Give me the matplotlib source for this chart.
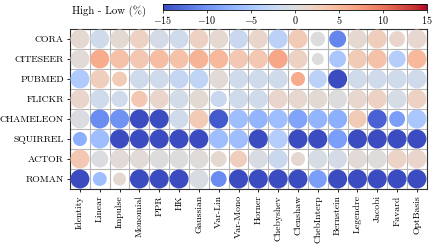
import numpy as np
import matplotlib
matplotlib.use("Agg")
import matplotlib.pyplot as plt
from matplotlib.colors import Normalize

plt.rcParams["font.family"] = ["cmr10", "DejaVu Serif"]
plt.rcParams["mathtext.fontset"] = "cm"
plt.rcParams["axes.formatter.use_mathtext"] = True
plt.rcParams["axes.unicode_minus"] = False

datasets = ["CORA", "CITESEER", "PUBMED", "FLICKR", "CHAMELEON", "SQUIRREL", "ACTOR", "ROMAN"]
filters = ["Identity", "Linear", "Impulse", "Monomial", "PPR", "HK", "Gaussian", "Var-Lin",
           "Var-Mono", "Horner", "Chebyshev", "Clenshaw", "ChebInterp", "Bernstein",
           "Legendre", "Jacobi", "Favard", "OptBasis"]

# High - Low (%) per dataset (rows) and filter (columns)
diff_cora = [1.0, -1.5, 0.8, 2.0, -1.0, -1.5, 2.0, 1.0, -2.0, 1.5, -3.5, 3.0, 0.0, -11.0, 1.0, 2.5, 1.5, 1.2]
diff_citeseer = [0.5, 6.0, 4.0, 3.5, 4.5, 4.0, 5.5, 5.0, 3.5, 3.5, 6.5, 2.0, 0.0, -5.0, 3.0, 4.0, -4.0, 5.0]
diff_pubmed = [-4.5, 2.5, 3.0, -1.5, -1.5, -2.5, -3.0, 0.5, -1.5, -1.5, -1.5, 6.0, -3.5, -15.0, -1.5, -1.5, -1.5, -1.5]
diff_flickr = [1.5, -1.5, -1.5, 3.5, 1.5, -1.2, 0.8, -2.0, -1.5, -1.5, 1.5, 1.2, 0.8, 0.0, 1.2, 2.0, -0.8, 2.0]
diff_chameleon = [-0.3, -10.5, -10.0, -15.0, -15.0, -1.5, 3.0, -14.0, -6.0, -7.0, -6.0, -8.5, -7.0, -7.5, 3.0, -13.5, -9.0, -5.0]
diff_squirrel = [-7.5, -6.0, -15.0, -15.0, -15.0, -15.0, -15.0, -6.0, -6.0, -15.0, -4.0, -15.0, -15.0, -9.0, -15.0, -15.0, -15.0, -15.0]
diff_actor = [3.5, -0.3, 0.5, 0.5, 0.0, 0.0, 0.3, 1.0, 2.5, -0.5, -2.0, 1.0, -0.8, -1.0, 0.5, 0.2, 1.8, 1.5]
diff_roman = [-15.0, -6.0, 1.0, -15.0, -15.0, -15.0, -0.5, -10.5, -15.0, -15.0, -15.0, -15.0, -9.0, -15.0, -15.0, -15.0, -15.0, -15.0]

# relative circle weight (1 = largest)
w_cora = [1, 1, 1, 1, 1, 1, 1, 1, 1, 1, 1, 1, 0.6, 0.8, 1, 1, 0.7, 1]
w_citeseer = [1, 1, 1, 1, 1, 1, 1, 1, 1, 1, 1, 1, 0.4, 0.8, 1, 1, 0.8, 1]
w_pubmed = [1, 1, 0.62, 1, 1, 1, 1, 1, 1, 1, 1, 0.55, 0.9, 1, 1, 1, 1, 1]
w_flickr = [1, 1, 0.75, 0.75, 1, 1, 1, 0.75, 1, 1, 1, 1, 1, 1, 1, 1, 1, 1]
w_chameleon = [1, 1, 1, 1, 1, 1, 1, 1, 1, 1, 1, 1, 1, 1, 0.9, 1, 0.7, 1]
w_squirrel = [0.55, 1, 1, 1, 1, 1, 1, 1, 1, 1, 1, 1, 1, 1, 1, 1, 1, 1]
w_actor = [1, 0.8, 1, 1, 1, 1, 1, 0.7, 0.8, 1, 1, 0.55, 1, 1, 1, 1, 1, 1]
w_roman = [1, 0.54, 0.47, 1, 1, 1, 1, 0.7, 1, 1, 1, 1, 0.9, 1, 1, 1, 1, 1]

diff = np.array([diff_cora, diff_citeseer, diff_pubmed, diff_flickr,
                 diff_chameleon, diff_squirrel, diff_actor, diff_roman])
weight = np.array([w_cora, w_citeseer, w_pubmed, w_flickr,
                   w_chameleon, w_squirrel, w_actor, w_roman])

fig = plt.figure(figsize=(4.36, 2.5), dpi=100)
ax = fig.add_axes([0.1606, 0.244, 0.8184, 0.64])

xx, yy = np.meshgrid(np.arange(len(filters)), np.arange(len(datasets)))
norm = Normalize(vmin=-15, vmax=15)
sc = ax.scatter(xx.ravel(), yy.ravel(), s=187 * weight.ravel(), c=diff.ravel(),
                cmap="coolwarm", norm=norm, linewidths=0, zorder=3)

ax.set_xlim(-0.5, len(filters) - 0.5)
ax.set_ylim(len(datasets) - 0.5, -0.5)
ax.set_xticks(np.arange(len(filters)))
ax.set_xticklabels(filters, rotation=90, fontsize=7)
ax.set_yticks(np.arange(len(datasets)))
ax.set_yticklabels(datasets, fontsize=7)
ax.set_xticks(np.arange(-0.5, len(filters)), minor=True)
ax.set_yticks(np.arange(-0.5, len(datasets)), minor=True)
ax.grid(True, which="minor", color="#b5b5b5", lw=0.8, zorder=0)
ax.tick_params(which="minor", length=0)
ax.tick_params(which="major", length=2.5, width=0.6, pad=2)
for sp in ax.spines.values():
    sp.set_linewidth(0.8)
    sp.set_color("#333333")

cax = fig.add_axes([0.374, 0.962, 0.6055, 0.022])
cb = fig.colorbar(sc, cax=cax, orientation="horizontal", ticks=[-15, -10, -5, 0, 5, 10, 15])
cb.ax.tick_params(labelsize=7.3, length=2, width=0.5, pad=1)
cb.outline.set_linewidth(0.6)
fig.text(0.335, 0.955, "High - Low (%)", ha="right", va="center", fontsize=7.8)

fig.savefig("out.png", dpi=100)
